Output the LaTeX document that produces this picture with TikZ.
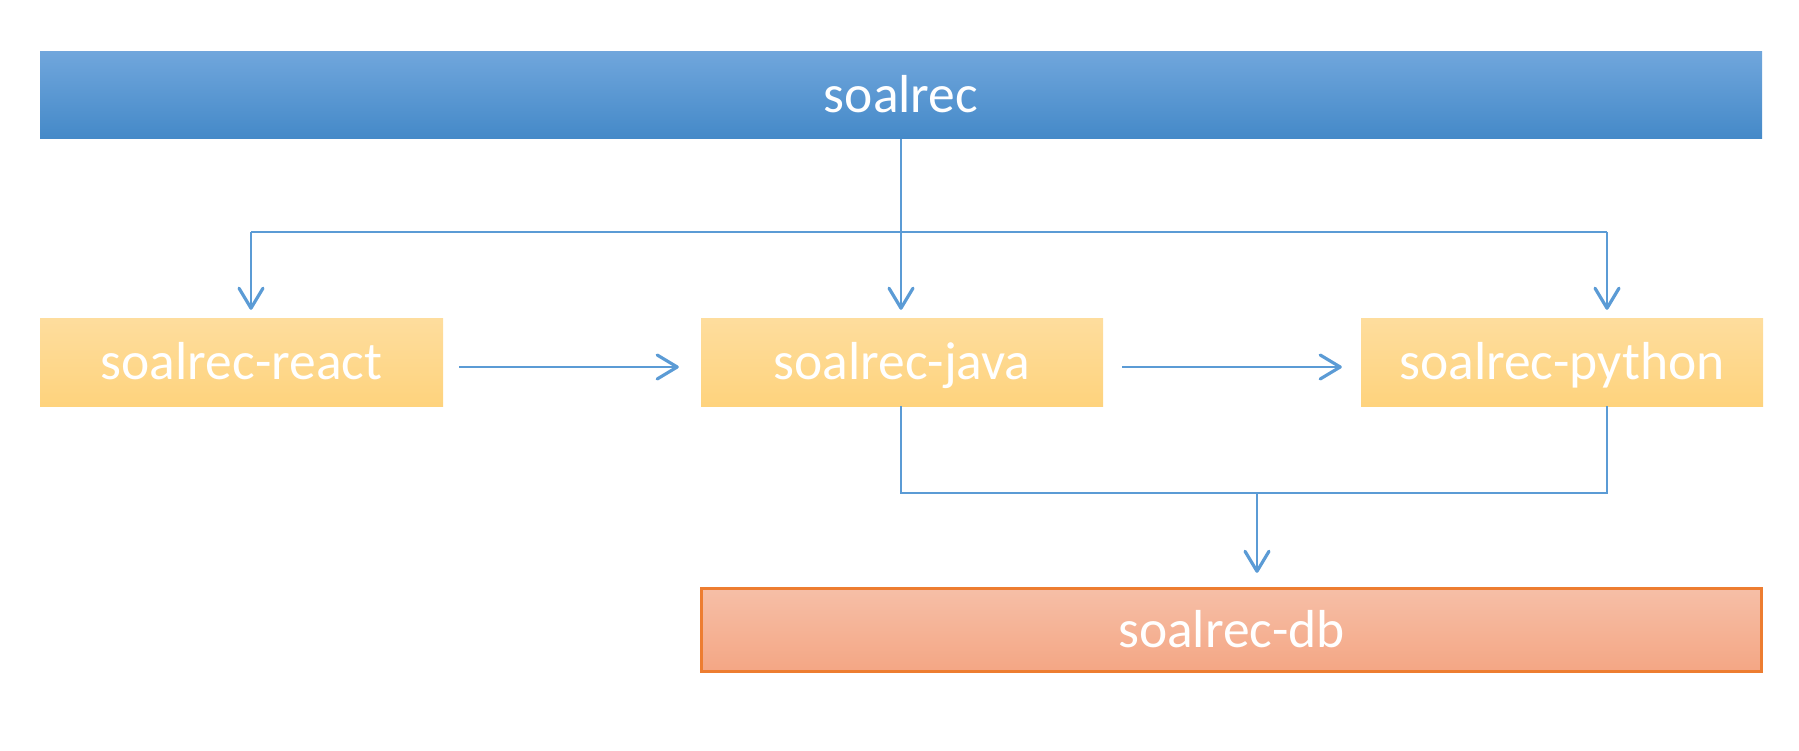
\documentclass[tikz,border=0pt]{standalone}
\usepackage{fontspec}
\setmainfont{Carlito}
\usetikzlibrary{arrows.meta}
\definecolor{conn}{RGB}{91,155,213}
\definecolor{bluetop}{RGB}{112,166,220}
\definecolor{bluemid}{RGB}{85,155,219}
\definecolor{bluebot}{RGB}{68,137,200}
\definecolor{yeltop}{RGB}{254,221,157}
\definecolor{yelbot}{RGB}{254,211,125}
\definecolor{dbtop}{RGB}{246,191,167}
\definecolor{dbbot}{RGB}{244,166,132}
\definecolor{dbborder}{RGB}{237,125,49}
\begin{document}
\begin{tikzpicture}[x=1pt,y=-1pt,
  box/.style={rectangle, inner sep=0pt, text=white,
    font=\fontsize{53.5}{64}\selectfont, text height=37pt, text depth=3pt,
    minimum height=87pt},
  bluebox/.style={box, top color=bluetop, middle color=bluemid, bottom color=bluebot},
  yelbox/.style={box, top color=yeltop, bottom color=yelbot},
  dbbox/.style={box, top color=dbtop, bottom color=dbbot, draw=dbborder, line width=2.8pt, minimum height=83.5pt},
  link/.style={draw=conn, line width=2.6pt},
  arr/.style={link, -{Straight Barb[length=20pt,width=24pt,line width=3.2pt,round]}}]
\useasboundingbox (0,0) rectangle (1799,751);
\node[bluebox, minimum width=1722pt] (top) at (901,95.5) {soalrec};
\node[yelbox, minimum width=403pt] (react) at (241.5,362.5) {soalrec-react};
\node[yelbox, minimum width=402pt] (java) at (902,362.5) {soalrec-java};
\node[yelbox, minimum width=402pt] (python) at (1562,362.5) {soalrec-python};
\node[dbbox, minimum width=1060.5pt] (db) at (1231.5,630) {soalrec-db};
\coordinate (bl) at (251,232);
\coordinate (br) at (1607,232);
\coordinate (m) at (1257,493);
\draw[link] (bl) -- (br);
\draw[arr, shorten >=9pt] (top.south) -- (top.south |- java.north);
\draw[arr, shorten >=9pt] (bl) -- (bl |- react.north);
\draw[arr, shorten >=9pt] (br) -- (br |- python.north);
\draw[arr, shorten <=16pt, shorten >=22pt] ([yshift=-4.5pt]react.east) -- ([yshift=-4.5pt]java.west);
\draw[arr, shorten <=19pt, shorten >=19pt] ([yshift=-4.5pt]java.east) -- ([yshift=-4.5pt]python.west);
\draw[link] ([xshift=-1pt]java.south) |- (m) -| ([xshift=45pt]python.south);
\draw[arr, shorten >=14pt] (m) -- (m |- db.north);
\end{tikzpicture}
\end{document}
